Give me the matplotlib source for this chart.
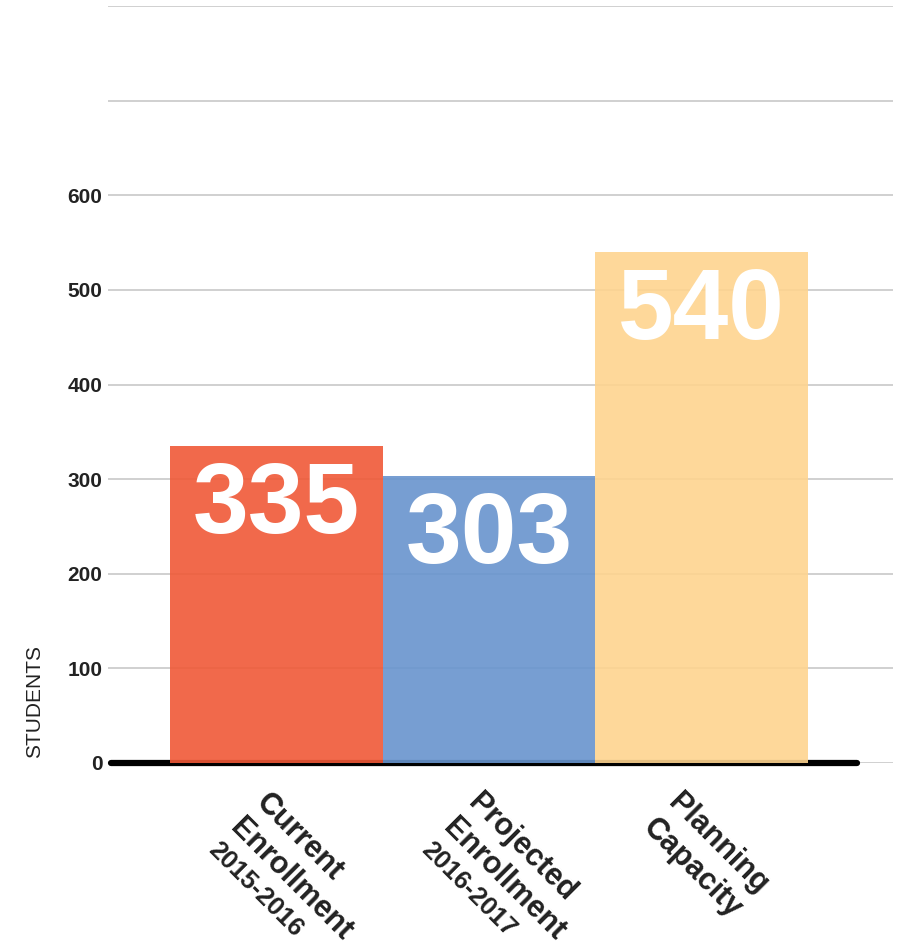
import matplotlib.pyplot as plt

plt.rcParams['font.family'] = ['Liberation Sans', 'DejaVu Sans']

# data
categories = [["Current", "Enrollment", "2015-2016"],
              ["Projected", "Enrollment", "2016-2017"],
              ["Planning", "Capacity"]]
values = [335, 303, 540]
colors = ["#F05937", "#6894CE", "#FED48F"]
yticks = [0, 100, 200, 300, 400, 500, 600, 700, 800]
ytick_labels = ["0", "100", "200", "300", "400", "500", "600", "", ""]

fig = plt.figure(figsize=(9.05, 9.51), dpi=100)
ax = fig.add_axes([108 / 905, 188 / 951, 785 / 905, 757 / 951])

xs = list(range(len(values)))
ax.bar(xs, values, width=1.0, color=colors, alpha=0.9, zorder=3)
ax.plot([-0.78, 2.73], [0, 0], color="black", lw=4.5, solid_capstyle="round",
        zorder=2, clip_on=False)

for x, v in zip(xs, values):
    ax.annotate(str(v), (x, v), xytext=(0, -10), textcoords="offset points",
                ha="center", va="top", color="white", fontsize=72, fontweight="bold", zorder=4)

# rotated category labels, one text per line
px = 0.72  # points per pixel
for x, lines in zip(xs, categories):
    n = len(lines)
    x0 = -43 + n * 12.4
    y0 = -25
    for i, line in enumerate(lines):
        size = 18.5 if line[0].isdigit() else 22
        ax.annotate(line, (x, 0),
                    xytext=((x0 - 25 * i) * px, (y0 - 25 * i) * px),
                    textcoords="offset points", rotation=-45, rotation_mode="anchor",
                    ha="left", va="top", fontsize=size, fontweight="bold",
                    color="#222222", annotation_clip=False)

ax.set_xlim(-0.792, 2.9)
ax.set_ylim(0, 800)
ax.set_yticks(yticks)
ax.set_yticklabels(ytick_labels, fontsize=15, fontweight="bold", color="#222222")
ax.set_xticks([])
ax.tick_params(axis="y", length=0, pad=4)
ax.grid(axis="y", color="#c4c4c4", lw=1.1, zorder=1)
ax.set_axisbelow(True)
for s in ax.spines.values():
    s.set_visible(False)

fig.text(35 / 905, 1 - 701 / 951, "STUDENTS", rotation=90, ha="center", va="center",
         fontsize=15, color="#222222")

fig.savefig("out.png", dpi=100)
